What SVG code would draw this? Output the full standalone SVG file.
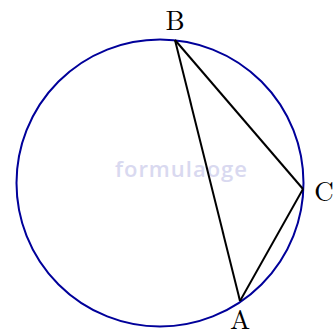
<svg xmlns="http://www.w3.org/2000/svg" width="334" height="331" viewBox="0 0 334 331">
<style>
.lbl{font-family:"Latin Modern Roman","Liberation Serif","DejaVu Serif",serif;font-size:27px;fill:#000;text-anchor:middle}
.wm{font-family:"Open Sans","Liberation Sans",sans-serif;font-weight:600;font-size:22px;fill:#d9d9f0}
.edge{stroke:#000;stroke-width:2;fill:none;stroke-linejoin:round}
</style>
<rect width="334" height="331" fill="#fff"/>
<text class="wm" x="115" y="177" textLength="132">formulaoge</text>
<g id="circle"><circle cx="160" cy="183" r="143.5" fill="none" stroke="#00009a" stroke-width="2"/></g>
<g id="connectors">
<line class="edge" x1="175" y1="40" x2="240" y2="301"/>
<line class="edge" x1="175" y1="40" x2="303" y2="189"/>
<line class="edge" x1="303" y1="189" x2="240" y2="301"/>
</g>
<g id="B"><text class="lbl" x="175" y="30">B</text></g>
<g id="C"><text class="lbl" x="324" y="201">C</text></g>
<g id="A"><text class="lbl" x="240" y="329">A</text></g>
</svg>
